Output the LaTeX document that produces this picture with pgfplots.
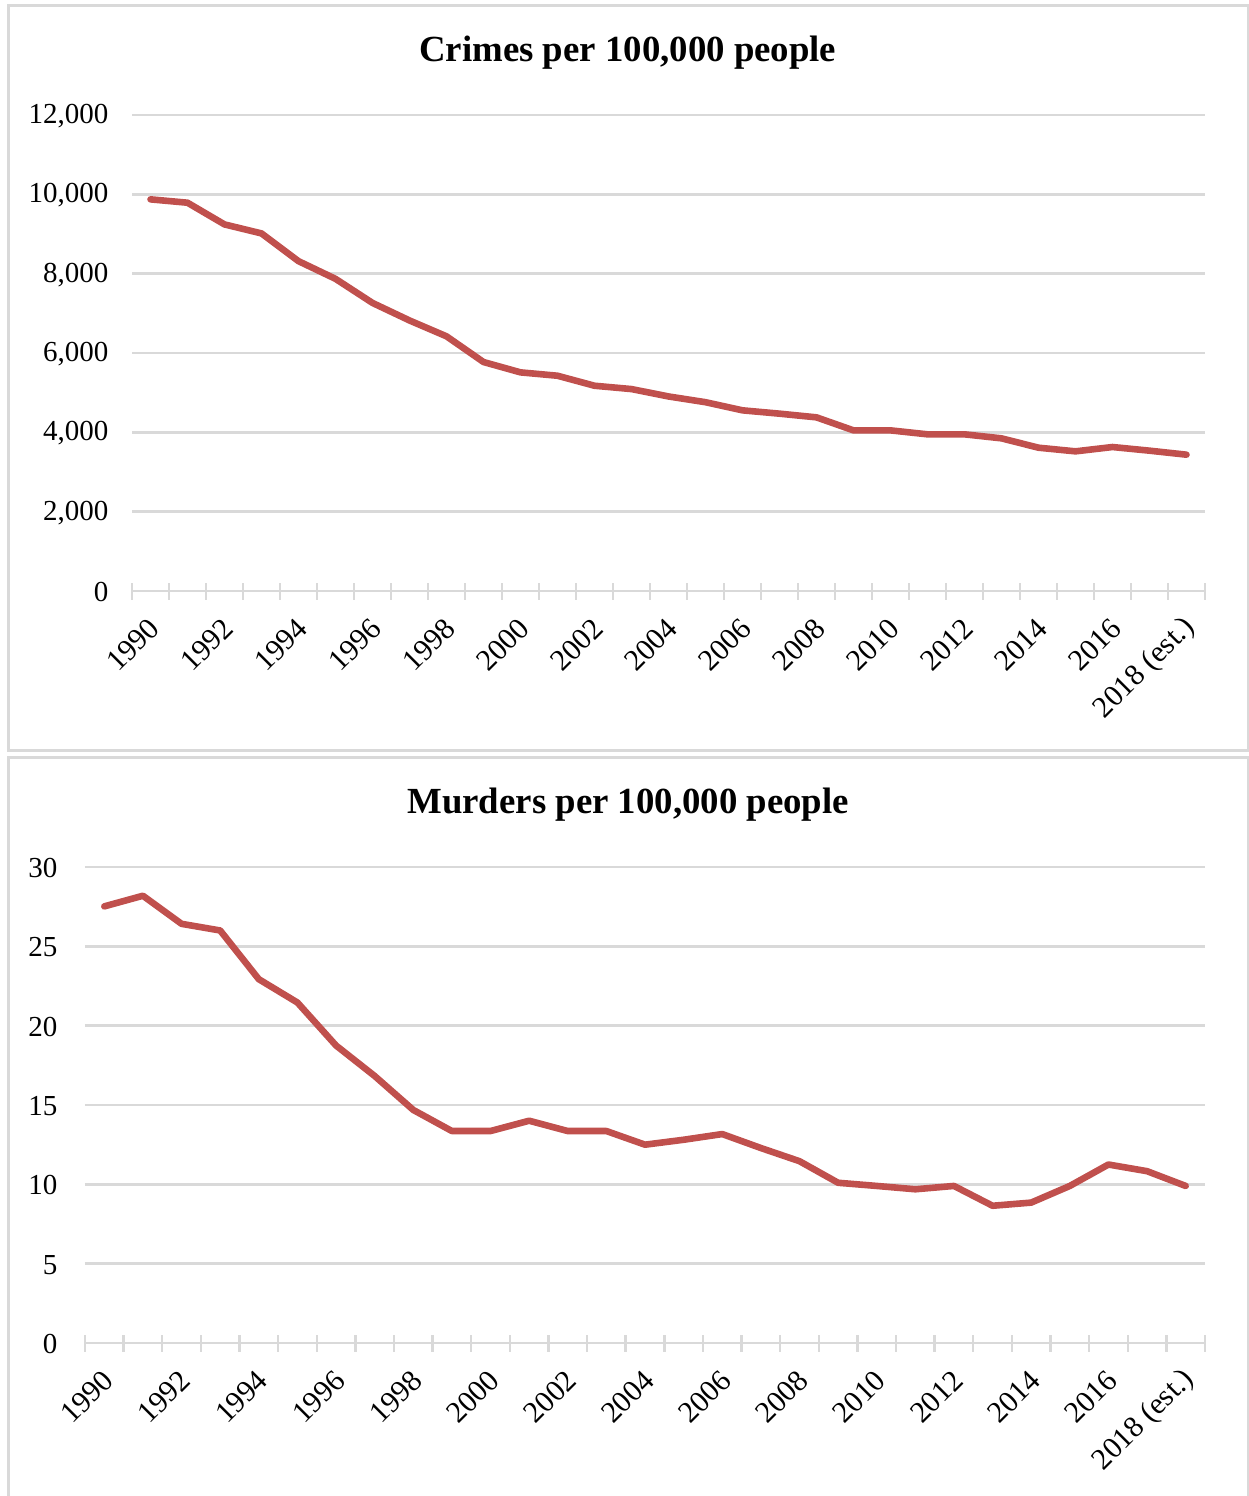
\documentclass[border=0pt]{standalone}
\usepackage{pgfplots}
\pgfplotsset{compat=1.18}
\usepackage{pgfplotstable}
\usepackage{fontspec}
\setmainfont{Liberation Serif}
\definecolor{gridgray}{HTML}{D9D9D9}
\definecolor{linered}{HTML}{C0504D}
\pgfplotstableread{
x y
0 9874
1 9789
2 9242
3 9015
4 8316
5 7870
6 7263
7 6821
8 6421
9 5773
10 5512
11 5427
12 5175
13 5091
14 4905
15 4760
16 4555
17 4471
18 4378
19 4050
20 4050
21 3950
22 3950
23 3849
24 3613
25 3521
26 3630
27 3538
28 3437
}\crimes
\pgfplotstableread{
x y
0 27.52
1 28.19
2 26.42
3 26.0
4 22.93
5 21.46
6 18.75
7 16.83
8 14.69
9 13.36
10 13.36
11 14.01
12 13.36
13 13.36
14 12.5
15 12.81
16 13.17
17 12.29
18 11.46
19 10.1
20 9.9
21 9.69
22 9.9
23 8.65
24 8.85
25 9.9
26 11.25
27 10.83
28 9.9
}\murders
\pgfplotsset{
  panel/.style={
    scale only axis,
    height=238pt,
    xmin=-0.5, xmax=28.5,
    ymin=0,
    scaled y ticks=false,
    axis x line=bottom, axis y line=left,
    axis line style={-},
    x axis line style={draw=gridgray, line width=1.2pt},
    y axis line style={draw=none},
    ytick style={draw=none},
    major x tick style={draw=none},
    minor x tick style={draw=gridgray, line width=1.2pt},
    minor tick length=8.5pt,
    tick align=center,
    xtick={0,2,...,28},
    minor xtick={-0.5,0.5,...,28.5},
    xticklabels={1990,1992,1994,1996,1998,2000,2002,2004,2006,2008,2010,2012,2014,2016,2018 (est.)},
    ymajorgrids,
    major grid style={draw=gridgray, line width=1.2pt},
    tick label style={font=\fontsize{15}{18}\selectfont},
    yticklabel style={font=\fontsize{14.5}{17}\selectfont},
    /pgf/number format/assume math mode=true,
    /pgf/number format/1000 sep={,},
    xticklabel style={yshift=-14pt, xshift=2pt, rotate=45, anchor=east, inner sep=0pt},
    title style={font=\fontsize{18.4}{22}\selectfont\bfseries, anchor=center},
  }
}
\begin{document}
\begin{tikzpicture}
\path[use as bounding box] (0,0) rectangle (624.5pt,-748pt);
\draw[gridgray, line width=1.5pt] (4pt,-2.5pt) rectangle (624pt,-375pt);
\draw[gridgray, line width=1.5pt] (4pt,-378.5pt) rectangle (624pt,-760pt);
\begin{axis}[panel,
  at={(66pt,-295.5pt)}, anchor=south west,
  width=536.5pt,
  ymax=12000, ytick={0,2000,...,12000},
  yticklabel style={anchor=east, inner sep=0pt, xshift=-9.5pt, yshift=-0.5pt},
  title={Crimes per 100,000 people},
  title style={at={(axis description cs:0.462,1)}, yshift=25pt},
]
\addplot[linered, line width=3.3pt, line cap=round, line join=round] table[x=x,y=y] {\crimes};
\end{axis}
\begin{axis}[panel,
  at={(42.5pt,-671.5pt)}, anchor=south west,
  width=560pt,
  ymax=30, ytick={0,5,...,30},
  yticklabel style={anchor=east, inner sep=0pt, xshift=-11.5pt, yshift=-0.5pt},
  title={Murders per 100,000 people},
  title style={at={(axis description cs:0.485,1)}, yshift=25pt},
]
\addplot[linered, line width=3.3pt, line cap=round, line join=round] table[x=x,y=y] {\murders};
\end{axis}
\end{tikzpicture}
\end{document}
